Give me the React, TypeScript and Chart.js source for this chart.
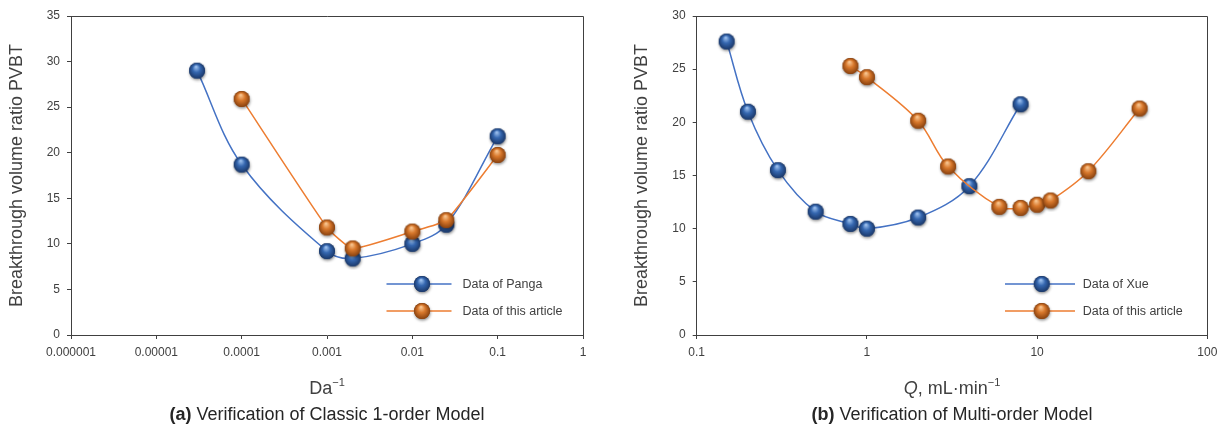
import React, { useEffect, useRef } from 'react';
import { Chart, registerables } from 'chart.js';

Chart.register(...registerables);

// ---- Panel (a): classic 1-order model ----
const daPanga = [0.00003, 0.0001, 0.001, 0.002, 0.01, 0.025, 0.1];
const pvbtPanga = [29.0, 18.7, 9.2, 8.4, 10.0, 12.1, 21.8];
const daArticle = [0.0001, 0.001, 0.002, 0.01, 0.025, 0.1];
const pvbtArticleA = [25.9, 11.8, 9.5, 11.35, 12.6, 19.75];
const daTicks = [0.000001, 0.00001, 0.0001, 0.001, 0.01, 0.1, 1];
const daTickLabels = ['0.000001', '0.00001', '0.0001', '0.001', '0.01', '0.1', '1'];
const pvbtTicksA = [0, 5, 10, 15, 20, 25, 30, 35];

// ---- Panel (b): multi-order model ----
const qXue = [0.15, 0.2, 0.3, 0.5, 0.8, 1, 2, 4, 8];
const pvbtXue = [27.6, 21.0, 15.5, 11.6, 10.45, 10.0, 11.05, 14.0, 21.7];
const qArticle = [0.8, 1, 2, 3, 6, 8, 10, 12, 20, 40];
const pvbtArticleB = [25.3, 24.25, 20.15, 15.85, 12.05, 11.95, 12.25, 12.65, 15.4, 21.3];
const qTicks = [0.1, 1, 10, 100];
const qTickLabels = ['0.1', '1', '10', '100'];
const pvbtTicksB = [0, 5, 10, 15, 20, 25, 30];

const FAMILY = '"Liberation Sans", Arial, Helvetica, sans-serif';
const AXIS = '#404040';
const TEXT = '#404040';
const BLUE_LINE = '#4472C4';
const ORANGE_LINE = '#ED7D31';

function makeSphere(light: string, base: string, dark: string): HTMLCanvasElement {
  const c = document.createElement('canvas');
  c.width = 24;
  c.height = 24;
  const g = c.getContext('2d')!;
  const cx = 12, cy = 12, r = 8;
  g.save();
  g.shadowColor = 'rgba(0,0,0,0.45)';
  g.shadowBlur = 3;
  g.shadowOffsetX = 0.5;
  g.shadowOffsetY = 1.5;
  g.fillStyle = dark;
  g.beginPath();
  g.arc(cx, cy, r, 0, Math.PI * 2);
  g.fill();
  g.restore();
  const grad = g.createRadialGradient(cx - 1, cy - 4, 0.5, cx, cy, r);
  grad.addColorStop(0, light);
  grad.addColorStop(0.45, base);
  grad.addColorStop(1, dark);
  g.fillStyle = grad;
  g.beginPath();
  g.arc(cx, cy, r, 0, Math.PI * 2);
  g.fill();
  return c;
}

type Run = { text: string; font: string; dy?: number };

function drawRuns(ctx: CanvasRenderingContext2D, runs: Run[], cx: number, baseline: number, color: string) {
  let total = 0;
  const widths = runs.map((r) => {
    ctx.font = r.font;
    const w = ctx.measureText(r.text).width;
    total += w;
    return w;
  });
  let x = cx - total / 2;
  ctx.fillStyle = color;
  ctx.textAlign = 'left';
  ctx.textBaseline = 'alphabetic';
  runs.forEach((r, i) => {
    ctx.font = r.font;
    ctx.fillText(r.text, x, baseline + (r.dy || 0));
    x += widths[i];
  });
}

type LegendItem = { label: string; color: string; sprite: HTMLCanvasElement; y: number };

type PanelSpec = {
  yTitleX: number;
  centerX: number;
  xTitle: Run[];
  caption: Run[];
  legend: LegendItem[];
  legendLine: [number, number];
  legendMarkerX: number;
  legendTextX: number;
};

function makeDecor(spec: PanelSpec) {
  return {
    id: 'panelDecor',
    afterDraw(chart: any) {
      const ctx: CanvasRenderingContext2D = chart.ctx;
      const a = chart.chartArea;
      ctx.save();

      // top and right frame lines
      ctx.strokeStyle = AXIS;
      ctx.lineWidth = 1;
      ctx.beginPath();
      ctx.moveTo(a.left, Math.round(a.top) + 0.5);
      ctx.lineTo(Math.round(a.right) + 0.5, Math.round(a.top) + 0.5);
      ctx.lineTo(Math.round(a.right) + 0.5, a.bottom);
      ctx.stroke();

      // y-axis title
      ctx.save();
      ctx.translate(spec.yTitleX, (a.top + a.bottom) / 2);
      ctx.rotate(-Math.PI / 2);
      ctx.font = `18px ${FAMILY}`;
      ctx.fillStyle = TEXT;
      ctx.textAlign = 'center';
      ctx.textBaseline = 'middle';
      ctx.fillText('Breakthrough volume ratio PVBT', 0, 0);
      ctx.restore();

      // x-axis title and panel caption
      drawRuns(ctx, spec.xTitle, spec.centerX, 393.5, TEXT);
      drawRuns(ctx, spec.caption, spec.centerX, 419.5, '#262626');

      // legend
      spec.legend.forEach((it) => {
        ctx.strokeStyle = it.color;
        ctx.lineWidth = 1.5;
        ctx.beginPath();
        ctx.moveTo(spec.legendLine[0], it.y);
        ctx.lineTo(spec.legendLine[1], it.y);
        ctx.stroke();
        ctx.drawImage(it.sprite, spec.legendMarkerX - it.sprite.width / 2, it.y - it.sprite.height / 2);
        ctx.font = `12.5px ${FAMILY}`;
        ctx.fillStyle = TEXT;
        ctx.textAlign = 'left';
        ctx.textBaseline = 'middle';
        ctx.fillText(it.label, spec.legendTextX, it.y + 0.5);
      });

      ctx.restore();
    },
  };
}

type PanelConfig = {
  series: { label: string; xs: number[]; ys: number[]; color: string; sprite: HTMLCanvasElement; tension: number }[];
  xMin: number;
  xMax: number;
  xTicks: number[];
  xLabels: string[];
  yMax: number;
  yTicks: number[];
  yWidth: number;
  padRight: number;
  decor: PanelSpec;
};

function buildConfig(p: PanelConfig): any {
  const tickFont = { family: FAMILY, size: 12 };
  return {
    type: 'line',
    data: {
      datasets: p.series.map((s) => ({
        label: s.label,
        data: s.xs.map((x, i) => ({ x, y: s.ys[i] })),
        borderColor: s.color,
        borderWidth: 1.5,
        tension: s.tension,
        fill: false,
        pointStyle: s.sprite,
        pointRadius: 8,
        pointHoverRadius: 8,
      })),
    },
    options: {
      animation: false,
      responsive: false,
      devicePixelRatio: 1,
      events: [],
      layout: { padding: { left: 0, right: p.padRight, top: 16, bottom: 0 } },
      plugins: { legend: { display: false }, tooltip: { enabled: false } },
      scales: {
        x: {
          type: 'logarithmic',
          min: p.xMin,
          max: p.xMax,
          afterBuildTicks: (s: any) => {
            s.ticks = p.xTicks.map((v) => ({ value: v }));
          },
          afterFit: (s: any) => {
            s.height = 98;
          },
          ticks: {
            autoSkip: false,
            maxRotation: 0,
            padding: 6,
            color: TEXT,
            font: tickFont,
            callback: (_v: any, i: number) => p.xLabels[i],
          },
          grid: { drawOnChartArea: false, drawTicks: true, tickLength: 4, color: AXIS },
          border: { color: AXIS, width: 1 },
        },
        y: {
          type: 'linear',
          min: 0,
          max: p.yMax,
          afterBuildTicks: (s: any) => {
            s.ticks = p.yTicks.map((v) => ({ value: v }));
          },
          afterFit: (s: any) => {
            s.width = p.yWidth;
          },
          ticks: { padding: 7, color: TEXT, font: tickFont },
          grid: { drawOnChartArea: false, drawTicks: true, tickLength: 4, color: AXIS },
          border: { color: AXIS, width: 1 },
        },
      },
    },
    plugins: [makeDecor(p.decor)],
  };
}

function Panel({ left, width, make }: { left: number; width: number; make: () => any }) {
  const ref = useRef<HTMLCanvasElement>(null);
  useEffect(() => {
    const chart = new Chart(ref.current!, make());
    return () => chart.destroy();
  }, []);
  return (
    <canvas
      ref={ref}
      width={width}
      height={433}
      style={{ position: 'absolute', left, top: 0, width, height: 433 }}
    />
  );
}

export default function App() {
  const makeA = () => {
    const blue = makeSphere('#9cc0ee', '#3567b0', '#1a386a');
    const orange = makeSphere('#f8c590', '#d8782c', '#8a420f');
    return buildConfig({
      series: [
        { label: 'Data of this article', xs: daArticle, ys: pvbtArticleA, color: ORANGE_LINE, sprite: orange, tension: 0.15 },
        { label: 'Data of Panga', xs: daPanga, ys: pvbtPanga, color: BLUE_LINE, sprite: blue, tension: 0.35 },
      ],
      xMin: daTicks[0],
      xMax: daTicks[daTicks.length - 1],
      xTicks: daTicks,
      xLabels: daTickLabels,
      yMax: 35,
      yTicks: pvbtTicksA,
      yWidth: 71,
      padRight: 17,
      decor: {
        yTitleX: 17.5,
        centerX: 327,
        xTitle: [
          { text: 'Da', font: `18px ${FAMILY}` },
          { text: '−1', font: `11px ${FAMILY}`, dy: -8 },
        ],
        caption: [
          { text: '(a)', font: `bold 18px ${FAMILY}` },
          { text: ' Verification of Classic 1-order Model', font: `18px ${FAMILY}` },
        ],
        legend: [
          { label: 'Data of Panga', color: BLUE_LINE, sprite: blue, y: 284 },
          { label: 'Data of this article', color: ORANGE_LINE, sprite: orange, y: 311 },
        ],
        legendLine: [386.5, 451.5],
        legendMarkerX: 422,
        legendTextX: 462.5,
      },
    });
  };

  const makeB = () => {
    const blue = makeSphere('#9cc0ee', '#3567b0', '#1a386a');
    const orange = makeSphere('#f8c590', '#d8782c', '#8a420f');
    return buildConfig({
      series: [
        { label: 'Data of this article', xs: qArticle, ys: pvbtArticleB, color: ORANGE_LINE, sprite: orange, tension: 0.35 },
        { label: 'Data of Xue', xs: qXue, ys: pvbtXue, color: BLUE_LINE, sprite: blue, tension: 0.35 },
      ],
      xMin: qTicks[0],
      xMax: qTicks[qTicks.length - 1],
      xTicks: qTicks,
      xLabels: qTickLabels,
      yMax: 30,
      yTicks: pvbtTicksB,
      yWidth: 96.7,
      padRight: 32.7,
      decor: {
        yTitleX: 42.5,
        centerX: 352,
        xTitle: [
          { text: 'Q', font: `italic 18px ${FAMILY}` },
          { text: ', mL·min', font: `18px ${FAMILY}` },
          { text: '−1', font: `11px ${FAMILY}`, dy: -8 },
        ],
        caption: [
          { text: '(b)', font: `bold 18px ${FAMILY}` },
          { text: ' Verification of Multi-order Model', font: `18px ${FAMILY}` },
        ],
        legend: [
          { label: 'Data of Xue', color: BLUE_LINE, sprite: blue, y: 284 },
          { label: 'Data of this article', color: ORANGE_LINE, sprite: orange, y: 311 },
        ],
        legendLine: [405, 475],
        legendMarkerX: 441.7,
        legendTextX: 482.7,
      },
    });
  };

  return (
    <div
      style={{
        position: 'fixed',
        left: 0,
        top: 0,
        width: 1217,
        height: 433,
        overflow: 'hidden',
        background: '#ffffff',
      }}
    >
      <Panel left={0} width={600} make={makeA} />
      <Panel left={600} width={640} make={makeB} />
    </div>
  );
}
